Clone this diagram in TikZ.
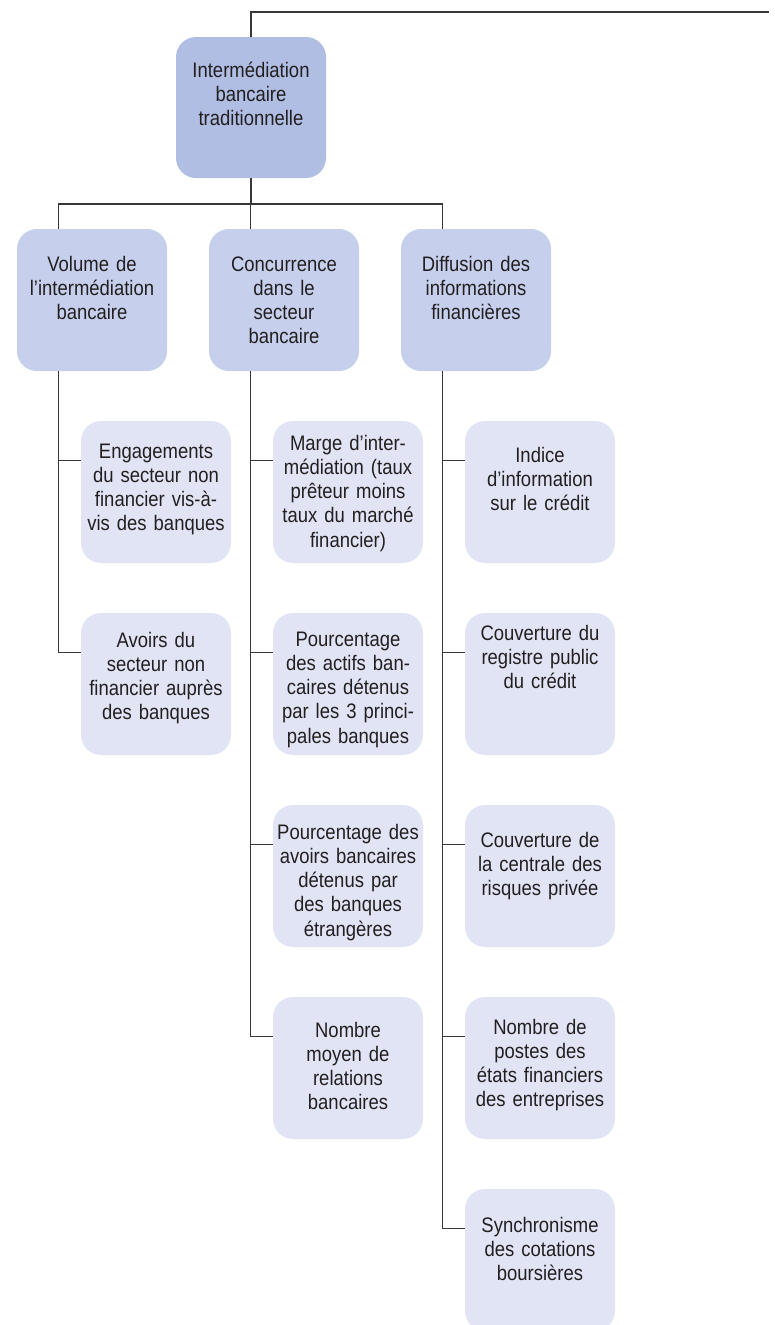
\documentclass[tikz,border=0pt]{standalone}
\usepackage{fontspec}
\setmainfont{Liberation Sans}
\newfontfamily\condfont[FakeStretch=0.88]{Liberation Sans}
\usetikzlibrary{positioning,calc}
\definecolor{rootblue}{RGB}{176,190,228}
\definecolor{midblue}{RGB}{198,208,236}
\definecolor{leafblue}{RGB}{224,228,244}
\definecolor{ink}{RGB}{35,31,32}
\definecolor{linegray}{RGB}{55,55,55}

\tikzset{
  card/.style={minimum width=150pt,minimum height=142pt,inner sep=0pt,rounded corners=20pt},
  rootcard/.style={card,fill=rootblue,minimum height=141pt},
  midcard/.style={card,fill=midblue},
  leafcard/.style={card,fill=leafblue},
  cardtext/.style={anchor=base,text width=150pt,align=center,inner sep=0pt,text=ink,
    font=\condfont\fontsize{21pt}{24.3pt}\selectfont},
  link/.style={draw=linegray,line width=1.3pt},
}

\begin{document}
\begin{tikzpicture}[x=1pt,y=-1pt]
  \useasboundingbox (0,0) rectangle (775,1325);

  % top level
  \node[rootcard] (top) at (251,107.5) {};
  \node[cardtext] (top-t) at (251,77) {Intermédiation\\bancaire\\traditionnelle};

  % second level
  \node[midcard] (vol) at (92,300) {};
  \node[midcard] (conc) at (284,300) {};
  \node[midcard] (diff) at (476,300) {};
  \node[cardtext] (vol-t) at (92,271) {Volume de\\l’intermédiation\\bancaire};
  \node[cardtext] (conc-t) at (284,271) {Concurrence\\dans le\\secteur\\bancaire};
  \node[cardtext] (diff-t) at (476,271) {Diffusion des\\informations\\financières};

  % volume column
  \node[leafcard] (eng) at (156,492) {};
  \node[leafcard] (avo) at (156,684) {};
  \node[cardtext] (eng-t) at (156,458) {Engagements\\du secteur non\\financier vis-à-\\vis des banques};
  \node[cardtext] (avo-t) at (156,647) {Avoirs du\\secteur non\\financier auprès\\des banques};

  % concurrence column
  \node[leafcard] (marge) at (348,492) {};
  \node[leafcard] (pact) at (348,684) {};
  \node[leafcard] (pav) at (348,876) {};
  \node[leafcard] (nomb) at (348,1068) {};
  \node[cardtext] (marge-t) at (348,450) {Marge d’inter-\\médiation (taux\\prêteur moins\\taux du marché\\financier)};
  \node[cardtext] (pact-t) at (348,646) {Pourcentage\\des actifs ban-\\caires détenus\\par les 3 princi-\\pales banques};
  \node[cardtext] (pav-t) at (348,839) {Pourcentage des\\avoirs bancaires\\détenus par\\des banques\\étrangères};
  \node[cardtext] (nomb-t) at (348,1037) {Nombre\\moyen de\\relations\\bancaires};

  % diffusion column
  \node[leafcard] (ind) at (540,492) {};
  \node[leafcard] (reg) at (540,684) {};
  \node[leafcard] (cent) at (540,876) {};
  \node[leafcard] (post) at (540,1068) {};
  \node[leafcard] (sync) at (540,1260) {};
  \node[cardtext] (ind-t) at (540,462) {Indice\\d’information\\sur le crédit};
  \node[cardtext] (reg-t) at (540,640) {Couverture du\\registre public\\du crédit};
  \node[cardtext] (cent-t) at (540,847) {Couverture de\\la centrale des\\risques privée};
  \node[cardtext] (post-t) at (540,1034) {Nombre de\\postes des\\états financiers\\des entreprises};
  \node[cardtext] (sync-t) at (540,1232) {Synchronisme\\des cotations\\boursières};

  % connectors
  \coordinate (tail) at (769,12);
  \coordinate (bar) at (251,204);
  \draw[link] (top.north) |- (tail);
  \draw[link] (top.south) -- (bar);
  \foreach \b in {vol,conc,diff}
    \draw[link] (bar) -| ([xshift=42pt]\b.north west);
  \foreach \p/\kids in {vol/{eng,avo},conc/{marge,pact,pav,nomb},diff/{ind,reg,cent,post,sync}}
    \foreach \k in \kids
      \draw[link] ([xshift=42pt]\p.south west) |- ([yshift=-40pt]\k.north west);
\end{tikzpicture}
\end{document}
